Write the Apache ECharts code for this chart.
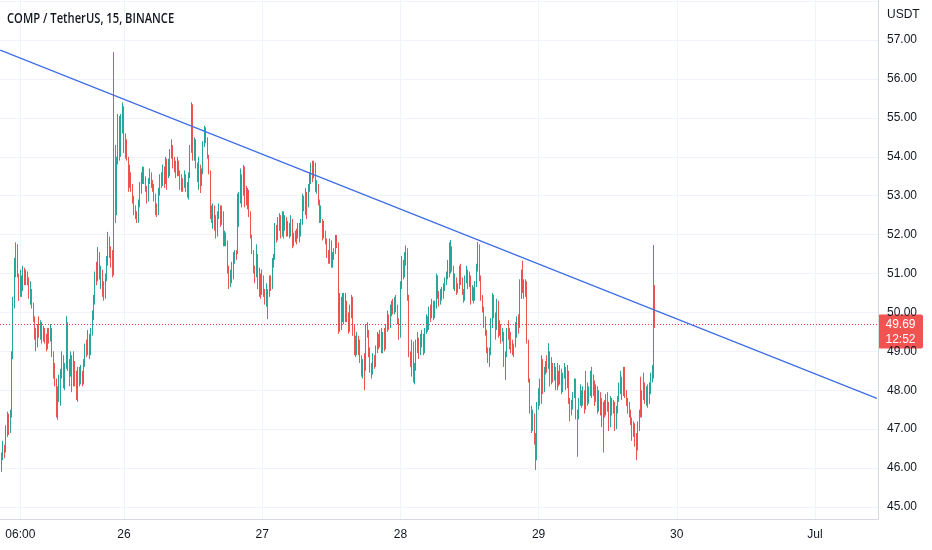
<!DOCTYPE html>
<html>
<head>
<meta charset="utf-8">
<title>COMP / TetherUS</title>
<script src="https://cdn.jsdelivr.net/npm/echarts@6/dist/echarts.min.js"></script>
<style>
  html, body { margin: 0; padding: 0; background: #fff; }
  #chart { width: 932px; height: 550px; }
</style>
</head>
<body>
<div id="chart"></div>
<script>
// --- DATEN (15-Minuten-Kerzen) ---
const firstOpen = 46.1;
const closes = [
  45.95,46.3,46.5,46.4,46.9,47.3,47.0,47.4,48.9,50.2,
  51.2,51.05,51.5,50.5,50.9,50.6,51.1,50.85,51.0,50.8,
  50.45,50.6,50.2,49.85,49.4,49.2,49.6,49.45,49.7,49.3,
  49.55,49.35,49.1,49.5,49.3,49.6,48.95,48.5,48.4,47.5,
  48.0,48.2,48.5,48.9,48.2,48.6,49.3,48.7,48.4,48.85,
  48.2,48.7,48.3,47.9,48.5,48.3,48.55,48.2,48.7,49.1,
  48.95,49.45,49.0,49.5,49.9,50.3,50.9,50.85,51.5,51.0,
  51.1,50.6,50.45,50.85,51.3,51.9,51.6,51.3,51.05,54.2,
  52.6,53.9,55.0,54.1,54.9,55.2,54.2,54.4,54.0,53.3,
  53.6,53.2,52.95,52.6,52.5,52.4,52.8,53.2,53.5,53.65,
  53.4,53.2,52.9,53.35,53.55,53.3,53.2,53.0,52.6,52.55,
  53.1,53.4,53.3,53.7,53.35,53.85,53.3,53.6,54.1,54.35,
  53.85,53.7,53.55,53.9,53.6,53.25,53.35,53.2,53.55,53.25,
  53.0,53.5,54.2,54.9,54.0,54.4,53.8,53.4,53.9,53.3,
  53.6,54.3,54.7,54.45,54.0,53.6,52.5,52.4,52.7,52.3,
  52.0,52.55,52.7,52.3,52.6,51.8,52.0,51.75,51.1,50.75,
  51.0,50.9,51.3,51.5,51.45,52.2,52.95,53.5,53.0,53.6,
  53.05,52.9,53.1,52.55,52.0,51.6,51.15,50.85,51.6,50.8,
  51.0,50.5,50.95,50.55,50.3,50.6,50.45,50.85,50.65,51.3,
  51.4,52.1,51.9,52.35,52.45,52.0,52.45,52.2,52.4,52.05,
  52.25,52.0,52.35,51.75,51.85,52.05,51.85,52.25,51.95,52.3,
  52.95,52.7,53.1,52.7,53.2,53.5,53.75,53.5,53.85,53.2,
  53.3,52.85,52.4,52.45,51.95,52.15,51.85,51.45,51.3,51.8,
  51.3,51.45,51.6,51.9,51.75,49.6,50.35,49.8,50.45,49.9,
  50.3,49.95,49.55,49.95,50.4,49.5,49.05,48.9,49.35,49.05,
  48.8,48.45,48.55,48.5,49.6,49.45,48.95,48.75,48.4,48.85,
  48.65,49.05,49.35,49.15,49.4,49.0,49.4,49.1,49.6,49.9,
  49.65,50.0,50.15,50.0,50.3,50.1,49.8,49.4,50.7,51.3,
  50.95,51.45,51.6,50.4,48.9,48.7,49.2,48.4,48.55,49.1,
  49.4,48.95,49.3,49.45,49.0,49.5,49.85,49.6,50.05,49.9,
  50.25,49.9,50.15,50.9,50.45,50.35,50.55,50.4,50.65,50.8,
  50.95,51.25,51.0,51.6,51.1,50.7,50.8,50.55,50.7,51.1,
  50.85,50.55,50.35,50.85,51.05,50.7,50.95,50.35,50.6,50.35,
  50.7,51.1,51.6,50.9,50.4,50.1,49.7,49.5,49.0,48.8,
  49.0,49.7,50.35,50.0,49.6,50.25,49.45,49.65,49.3,49.5,
  48.8,48.9,49.45,49.4,49.15,49.05,48.95,49.1,49.6,49.8,
  49.55,50.4,51.0,50.55,50.7,50.45,49.3,48.3,47.5,47.0,
  47.35,46.75,46.3,47.55,47.95,47.7,48.6,48.0,48.5,48.65,
  48.55,48.95,48.2,48.6,48.3,48.6,48.05,48.5,48.2,48.55,
  48.0,48.4,48.6,48.1,48.5,47.75,47.4,47.65,47.85,48.2,
  47.4,47.3,47.7,48.0,47.7,48.0,47.55,48.2,47.7,47.95,
  48.3,47.9,48.2,47.75,48.05,47.5,47.9,47.5,47.2,47.6,
  47.4,47.8,47.55,47.1,47.75,47.45,47.65,47.1,47.5,47.75,
  48.0,48.35,47.85,48.25,47.9,47.7,47.5,47.4,47.2,46.85,
  47.1,46.7,46.5,47.05,47.4,47.35,47.8,48.2,47.85,48.0,
  47.7,48.05,48.35,48.6,50.65,49.69
];
const highs = [
  46.1,46.4,46.7,46.6,47.1,47.45,47.4,47.5,49.0,50.4,
  51.4,51.8,51.75,51.0,51.1,50.95,51.2,51.15,51.1,51.05,
  50.9,50.8,50.6,50.25,49.9,49.6,49.7,49.9,49.8,49.75,
  49.65,49.6,49.45,49.6,49.6,49.7,49.6,49.0,48.7,48.3,
  48.1,48.4,48.55,49.0,48.9,48.7,49.9,49.75,48.8,49.0,
  48.9,49.0,48.75,48.5,48.6,48.6,48.65,48.5,48.8,49.2,
  49.3,49.55,49.45,49.6,50.05,50.45,51.05,51.3,51.68,51.55,
  51.2,51.1,50.8,51.0,51.45,52.07,51.95,51.7,51.6,56.69,
  54.3,54.0,55.1,55.05,55.1,55.4,55.3,54.6,54.45,54.0,
  53.8,53.6,53.3,53.0,52.75,52.6,52.9,53.35,53.6,53.75,
  53.74,53.5,53.25,53.45,53.7,53.6,53.4,53.3,53.05,52.8,
  53.2,53.55,53.6,53.8,53.75,54.0,53.95,53.95,54.2,54.45,
  54.3,54.0,53.9,54.0,53.9,53.65,53.55,53.45,53.65,53.55,
  53.35,53.6,54.3,55.4,55.35,54.5,54.45,53.85,54.0,53.8,
  53.7,54.4,54.8,54.76,54.5,54.05,53.65,52.75,52.8,52.75,
  52.5,52.6,52.8,52.75,52.75,52.6,52.1,52.05,51.85,51.2,
  51.1,51.3,51.55,51.6,51.6,53.05,53.1,53.7,53.55,53.79,
  53.75,53.25,53.2,53.15,52.6,52.0,51.6,51.2,51.75,51.5,
  51.15,51.0,51.1,50.95,50.6,50.75,50.6,50.95,50.95,51.4,
  51.5,52.3,52.25,52.45,52.55,52.5,52.6,52.6,52.5,52.45,
  52.35,52.3,52.5,52.4,52.05,52.1,52.15,52.3,52.3,52.4,
  53.05,53.0,53.2,53.1,53.3,53.6,53.85,53.9,53.9,53.85,
  53.4,53.3,52.9,52.75,52.4,52.35,52.1,51.9,51.6,51.9,
  51.85,51.55,51.65,51.99,51.99,51.8,50.5,50.4,50.5,50.5,
  50.5,50.3,50.0,50.2,50.45,50.4,49.7,49.4,49.5,49.4,
  49.3,48.9,48.8,48.95,49.7,49.75,49.55,49.1,48.7,48.95,
  48.9,49.15,49.5,49.45,49.55,49.6,49.5,49.6,49.7,50.05,
  49.95,50.2,50.3,50.35,50.4,50.45,50.2,49.85,50.8,51.45,
  51.35,51.55,51.72,51.65,50.45,49.0,49.3,49.25,48.7,49.3,
  49.5,49.35,49.45,49.55,49.45,49.6,49.95,49.9,50.15,50.2,
  50.35,50.3,50.3,51.0,50.95,50.55,50.6,50.65,50.75,50.9,
  51.05,51.35,51.8,51.86,51.7,51.2,51.0,50.9,50.75,51.2,
  51.25,50.9,50.6,50.95,51.2,51.1,51.05,50.95,50.7,50.65,
  50.8,51.25,51.81,51.75,50.95,50.45,50.15,49.9,49.55,49.1,
  49.1,49.85,50.5,50.45,50.0,50.35,50.3,49.8,49.7,49.6,
  49.5,49.0,49.6,49.8,49.6,49.5,49.3,49.2,49.75,49.9,
  49.95,50.85,51.1,51.33,50.85,50.85,50.8,49.3,48.3,47.6,
  47.5,47.4,46.9,47.7,48.05,48.3,48.9,48.8,48.6,48.75,
  48.9,49.21,49.0,48.85,48.7,48.7,48.6,48.7,48.5,48.65,
  48.55,48.45,48.7,48.6,48.65,48.5,47.8,47.75,47.95,48.3,
  48.3,47.5,47.8,48.15,48.0,48.1,48.0,48.5,48.2,48.1,
  48.5,48.6,48.4,48.25,48.15,48.1,48.0,47.95,47.8,47.7,
  47.75,47.9,47.95,47.7,47.85,47.8,47.75,47.7,47.6,47.85,
  48.2,48.5,48.35,48.6,48.6,48.0,47.8,47.7,47.5,47.3,
  47.2,47.15,46.9,47.2,47.5,48.35,48.0,48.45,48.2,48.1,
  48.15,48.2,48.45,48.65,51.73,50.7
];
const lows = [
  45.8,45.9,46.2,46.25,46.4,46.8,46.85,46.9,47.3,48.8,
  50.1,50.9,50.9,50.3,50.4,50.4,50.55,50.7,50.7,50.7,
  50.35,50.2,50.1,49.75,49.3,49.0,49.1,49.35,49.3,49.2,
  49.25,49.2,49.0,49.05,49.2,49.25,48.85,48.3,48.1,47.3,
  47.24,47.7,47.6,48.3,48.05,48.0,48.55,48.5,48.1,48.35,
  47.95,48.1,48.1,47.75,47.7,48.1,48.15,48.1,48.15,48.6,
  48.85,48.9,48.8,48.9,49.4,49.8,50.2,50.7,50.8,50.85,
  50.6,50.4,50.3,50.35,50.8,51.2,51.4,51.15,50.9,50.95,
  52.3,52.5,53.8,53.9,54.0,54.6,54.1,53.95,53.9,53.1,
  53.2,53.1,52.8,52.5,52.4,52.3,52.3,52.7,53.05,53.3,
  53.3,53.1,52.8,52.85,53.3,53.2,53.1,52.85,52.5,52.45,
  52.5,53.0,53.2,53.25,53.2,53.3,53.15,53.45,53.5,53.95,
  53.7,53.6,53.45,53.5,53.5,53.15,53.1,53.1,53.2,53.1,
  52.95,52.9,53.45,54.1,53.9,53.9,53.7,53.35,53.15,53.07,
  53.25,53.55,54.25,54.35,53.95,53.55,52.4,52.3,52.15,52.1,
  51.9,51.95,52.4,52.2,52.25,51.7,51.7,51.7,51.0,50.6,
  50.65,50.75,50.85,51.25,51.35,51.5,52.2,52.8,52.7,53.0,
  52.7,52.75,52.65,52.45,51.9,51.5,51.0,50.75,50.9,50.6,
  50.4,50.35,50.45,50.4,50.2,50.15,49.83,50.4,50.55,50.6,
  51.15,51.35,51.8,51.85,52.1,51.9,51.95,51.9,52.1,51.95,
  51.95,51.9,51.95,51.65,51.7,51.8,51.75,51.9,51.8,51.95,
  52.25,52.6,52.5,52.4,52.7,53.1,53.3,53.35,53.45,53.1,
  53.05,52.75,52.3,52.3,51.85,51.9,51.75,51.4,51.25,51.25,
  51.15,51.15,51.35,51.5,51.65,49.45,49.5,49.55,49.75,49.7,
  49.75,49.75,49.45,49.5,49.85,49.4,48.9,48.85,48.9,48.9,
  48.7,48.35,48.3,48.0,48.5,49.35,48.85,48.45,48.3,48.4,
  48.55,48.6,48.95,49.05,49.1,48.95,48.95,49.0,49.05,49.5,
  49.55,49.6,49.9,49.95,49.95,50.0,49.7,49.3,49.35,50.6,
  50.85,50.9,51.2,50.3,48.85,48.6,48.35,48.2,48.15,48.5,
  48.95,48.8,48.9,49.1,48.9,48.95,49.45,49.5,49.55,49.75,
  49.85,49.8,49.85,50.1,50.35,50.15,50.2,50.3,50.35,50.55,
  50.7,50.85,50.9,51.0,51.05,50.6,50.55,50.45,50.5,50.6,
  50.7,50.45,50.25,50.3,50.75,50.6,50.65,50.2,50.3,50.23,
  50.3,50.65,51.05,50.8,50.3,50.0,49.6,49.4,48.95,48.7,
  48.6,48.9,49.6,49.85,49.3,49.55,49.35,49.4,49.2,49.25,
  48.6,48.26,48.85,49.3,49.05,48.95,48.9,48.85,49.1,49.35,
  49.45,49.6,50.35,50.5,50.35,50.4,49.2,48.2,47.4,46.9,
  46.95,46.6,45.95,46.2,47.5,47.6,47.65,47.9,47.95,48.4,
  48.45,48.55,48.1,48.15,48.2,48.25,48.0,48.0,48.1,48.15,
  47.9,47.95,48.3,48.0,48.05,47.65,47.2,47.35,47.5,47.8,
  47.25,46.29,47.25,47.6,47.55,47.6,47.4,47.5,47.6,47.65,
  47.85,47.8,47.85,47.6,47.7,47.4,47.45,47.35,47.05,46.4,
  47.3,47.35,47.45,46.95,47.05,47.35,47.4,46.95,47.0,47.4,
  47.7,47.9,47.75,47.85,47.8,47.6,47.4,47.3,47.1,46.7,
  46.8,46.55,46.2,46.45,46.95,47.3,47.3,47.75,47.65,47.6,
  47.55,47.65,47.9,48.2,48.3,49.6
];
const startHour = -21.5;   // Stunden relativ zum 26. Juni 00:00
const stepHour = 0.25;     // 15 Minuten
const tickHours = [-18, 0, 24, 48, 72, 96, 120];
const tickLabels = ['06:00', '26', '27', '28', '29', '30', 'Jul'];
const priceTicks = [45, 46, 47, 48, 49, 50, 51, 52, 53, 54, 55, 56, 57];
const gridPrices = [45, 46, 47, 48, 49, 50, 51, 52, 53, 54, 55, 56, 57, 58];
const trendHours = [-21.5, 130.75];
const trendPrices = [56.74, 47.79];
const lastPrice = 49.69;
const countdown = '12:52';
const titleText = 'COMP / TetherUS, 15, BINANCE';

// --- INITIALISIERUNG ---
const chart = echarts.init(document.getElementById('chart'));

const candles = closes.map((c, i) => [
  startHour + i * stepHour,
  i === 0 ? firstOpen : closes[i - 1],
  c,
  lows[i],
  highs[i]
]);

const UP = '#26a69a';
const DOWN = '#ef5350';
const axisFont = { fontFamily: 'Liberation Sans', fontSize: 12, color: '#131722' };

chart.setOption({
  animation: false,
  backgroundColor: '#ffffff',
  title: [
    { text: 'USDT', left: 887, top: 9, padding: 0,
      textStyle: { fontFamily: 'Liberation Sans', fontSize: 12, fontWeight: 'normal', color: '#131722' } }
  ],
  grid: { left: 0, right: 54, top: 0, bottom: 31 },
  xAxis: {
    type: 'value',
    min: -21.535,
    max: 130.95,
    axisLine: { show: true, onZero: false, lineStyle: { color: '#d6d9e0' } },
    axisTick: { show: false, customValues: tickHours },
    axisLabel: {
      customValues: tickHours,
      margin: 10,
      ...axisFont,
      formatter: v => tickLabels[tickHours.indexOf(v)] || ''
    },
    splitLine: { show: true, lineStyle: { color: '#f0f3fa' } }
  },
  yAxis: {
    type: 'value',
    position: 'right',
    min: 44.69,
    max: 58.03,
    axisLine: { show: true, onZero: false, lineStyle: { color: '#d6d9e0' } },
    axisTick: { show: false, customValues: gridPrices },
    axisLabel: {
      customValues: priceTicks,
      margin: 9,
      ...axisFont,
      formatter: v => v.toFixed(2)
    },
    splitLine: { show: true, lineStyle: { color: '#f0f3fa' } }
  },
  series: [
    {
      name: 'COMP',
      type: 'candlestick',
      data: candles,
      encode: { x: 0, y: [1, 2, 3, 4] },
      barWidth: 0.4,
      itemStyle: {
        color: UP, color0: DOWN,
        borderColor: UP, borderColor0: DOWN,
        borderWidth: 1
      },
      markLine: {
        silent: true,
        symbol: ['none', 'none'],
        label: { show: false },
        lineStyle: { color: '#f23645', type: [1, 2], width: 1 },
        data: [{ yAxis: lastPrice }]
      }
    },
    {
      name: 'Trend',
      type: 'line',
      data: trendHours.map((h, i) => [h, trendPrices[i]]),
      symbol: 'none',
      silent: true,
      z: 5,
      lineStyle: { color: '#3f6fe6', width: 1.4 }
    }
  ]
});

// Titel (schmal, wie im Original) und Preis-Label rechts
const py = chart.convertToPixel({ yAxisIndex: 0 }, lastPrice);
const px = chart.convertToPixel({ xAxisIndex: 0 }, 130.95);
chart.setOption({
  graphic: [
    {
      type: 'text',
      x: 7,
      y: 19,
      scaleX: 0.8,
      z: 100,
      style: { text: titleText, fill: '#131722', font: '600 14px "Open Sans"', verticalAlign: 'middle' }
    },
    {
      type: 'group',
      x: px,
      y: py - 10,
      z: 100,
      children: [
        { type: 'rect', shape: { x: 0, y: 0, width: 45, height: 34, r: 2 }, style: { fill: '#f05350' } },
        { type: 'text', x: 22.5, y: 10, style: { text: lastPrice.toFixed(2), fill: '#fff', font: '12px "Liberation Sans"', align: 'center', verticalAlign: 'middle' } },
        { type: 'text', x: 22.5, y: 25, style: { text: countdown, fill: '#fff', font: '12px "Liberation Sans"', align: 'center', verticalAlign: 'middle' } }
      ]
    }
  ]
});
</script>
</body>
</html>
